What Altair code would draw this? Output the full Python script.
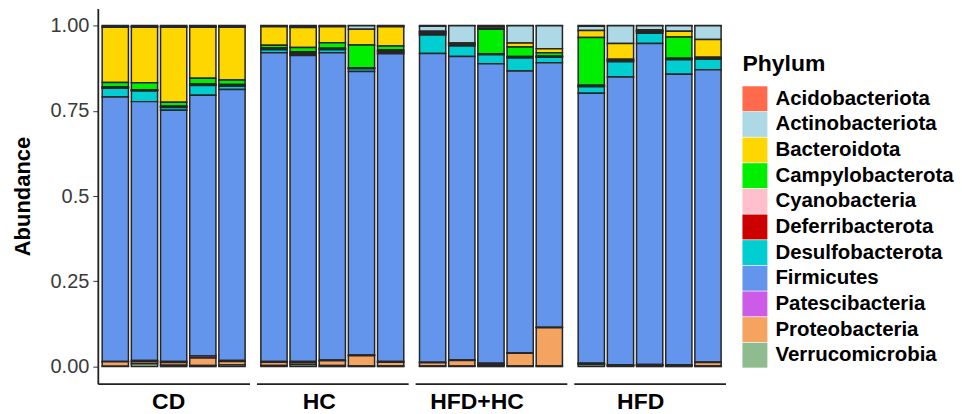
import altair as alt
import pandas as pd

groups = ["CD", "HC", "HFD+HC", "HFD"]
samples = [f"{g}_{i}" for g in groups for i in range(1, 6)]
sample_groups = [g for g in groups for _ in range(5)]

phyla = ["Acidobacteriota", "Actinobacteriota", "Bacteroidota", "Campylobacterota",
         "Cyanobacteria", "Deferribacterota", "Desulfobacterota", "Firmicutes",
         "Patescibacteria", "Proteobacteria", "Verrucomicrobia"]
colors = ["#FF6A4D", "#ADD8E6", "#FFD700", "#00EE00", "#FFC0CB", "#CD0000",
          "#00CED1", "#6495ED", "#CC5CE8", "#F4A460", "#8FBC8F"]

# values per sample: CD1-5, HC1-5, HFD+HC1-5, HFD1-5
acidobacteriota = [0.002, 0.002, 0.002, 0.002, 0.002,  0.001, 0.002, 0.001, 0.001, 0.001,
                   0.002, 0.001, 0.003, 0.001, 0.001,  0.002, 0.001, 0.001, 0.001, 0.001]
actinobacteriota = [0.003, 0.003, 0.003, 0.003, 0.003,  0.003, 0.004, 0.003, 0.010, 0.003,
                    0.015, 0.050, 0.005, 0.050, 0.067,  0.013, 0.052, 0.012, 0.016, 0.040]
bacteroidota = [0.162, 0.163, 0.220, 0.150, 0.155,  0.054, 0.059, 0.047, 0.046, 0.056,
                0.002, 0.002, 0.003, 0.012, 0.012,  0.020, 0.046, 0.002, 0.017, 0.052]
campylobacterota = [0.013, 0.020, 0.012, 0.017, 0.013,  0.008, 0.012, 0.016, 0.067, 0.012,
                    0.002, 0.001, 0.072, 0.028, 0.010,  0.140, 0.002, 0.002, 0.062, 0.003]
cyanobacteria = [0.001, 0.001, 0.001, 0.001, 0.001,  0.001, 0.003, 0.001, 0.001, 0.003,
                 0.003, 0.002, 0.001, 0.001, 0.001,  0.002, 0.002, 0.002, 0.002, 0.001]
deferribacterota = [0.003, 0.003, 0.003, 0.003, 0.004,  0.004, 0.004, 0.003, 0.002, 0.004,
                    0.004, 0.004, 0.002, 0.003, 0.002,  0.002, 0.003, 0.004, 0.002, 0.002]
desulfobacterota = [0.025, 0.031, 0.008, 0.029, 0.010,  0.009, 0.004, 0.009, 0.008, 0.004,
                    0.054, 0.031, 0.026, 0.038, 0.016,  0.019, 0.045, 0.030, 0.043, 0.031]
firmicutes = [0.774, 0.758, 0.737, 0.766, 0.794,  0.906, 0.899, 0.903, 0.832, 0.902,
              0.904, 0.890, 0.876, 0.826, 0.776,  0.790, 0.843, 0.940, 0.850, 0.857]
patescibacteria = [0.001, 0.004, 0.003, 0.006, 0.003,  0.002, 0.003, 0.002, 0.002, 0.002,
                   0.002, 0.001, 0.002, 0.001, 0.001,  0.001, 0.001, 0.001, 0.001, 0.001]
proteobacteria = [0.013, 0.006, 0.008, 0.022, 0.010,  0.010, 0.006, 0.014, 0.030, 0.011,
                  0.009, 0.016, 0.004, 0.037, 0.112,  0.003, 0.002, 0.002, 0.002, 0.010]
verrucomicrobia = [0.001, 0.008, 0.004, 0.003, 0.005,  0.003, 0.006, 0.003, 0.002, 0.002,
                   0.002, 0.002, 0.004, 0.002, 0.002,  0.006, 0.002, 0.003, 0.002, 0.002]

series = [acidobacteriota, actinobacteriota, bacteroidota, campylobacterota, cyanobacteria,
          deferribacterota, desulfobacterota, firmicutes, patescibacteria, proteobacteria,
          verrucomicrobia]

rows = []
for k, (p, vals) in enumerate(zip(phyla, series)):
    for s, g, v in zip(samples, sample_groups, vals):
        if v > 0:
            rows.append({"sample": s, "group": g, "phylum": p, "ord": k, "value": v})
df = pd.DataFrame(rows)

FONT = "Liberation Sans"
label_dx = {"CD": -5, "HC": -13, "HFD+HC": -14, "HFD": -9}

legend = alt.Legend(title="Phylum", titleFont=FONT, titleFontSize=23,
                    titleFontWeight="bold", titleColor="#000000",
                    labelFont=FONT, labelFontSize=20.5, labelFontWeight="bold",
                    labelColor="#000000", labelLimit=0, symbolType="square",
                    symbolSize=625, symbolStrokeWidth=0, symbolOpacity=1,
                    rowPadding=0.7, labelOffset=8, titlePadding=10,
                    orient="none", legendX=646, legendY=45)


def panel(g, first):
    if first:
        yaxis = alt.Axis(values=[0, 0.25, 0.5, 0.75, 1.0], grid=False,
                         labelExpr="datum.value == 0.5 ? '0.5' : format(datum.value, '.2f')",
                         title="Abundance", titleFontSize=22, titleFontWeight="bold",
                         titleFont=FONT, titleColor="#000000", titlePadding=16,
                         labelFont=FONT, labelFontSize=20, labelColor="#3a3a3a",
                         tickColor="#333333", tickSize=5, domainColor="#222222",
                         domainWidth=1.8, labelPadding=4)
    else:
        yaxis = None
    sub = [s for s, gg in zip(samples, sample_groups) if gg == g]
    return alt.Chart(df).transform_filter(
        alt.datum.group == g
    ).mark_bar(stroke="#262626", strokeWidth=1.5).encode(
        x=alt.X("sample:N", sort=sub,
                scale=alt.Scale(paddingInner=0.1, paddingOuter=0.15),
                axis=alt.Axis(labels=False, ticks=False, title=None, domainColor="#222222",
                              domainWidth=1.8)),
        y=alt.Y("value:Q", stack="normalize",
                scale=alt.Scale(domain=[-0.05, 1.05], nice=False, zero=False),
                axis=yaxis),
        color=alt.Color("phylum:N", scale=alt.Scale(domain=phyla, range=colors),
                        legend=legend),
        order=alt.Order("ord:Q", sort="descending"),
    ).properties(
        width=152, height=376,
        title=alt.TitleParams(g, orient="bottom", font=FONT, fontSize=23, fontWeight="bold",
                              color="#000000", offset=7, dx=label_dx[g], anchor="middle"),
    )


chart = alt.hconcat(*[panel(g, i == 0) for i, g in enumerate(groups)], spacing=7).properties(
    padding={"left": 3, "top": 0, "right": 0, "bottom": 0}
).configure_view(stroke=None)

chart.save("out.html", embed_options={"renderer": "svg", "actions": False})
